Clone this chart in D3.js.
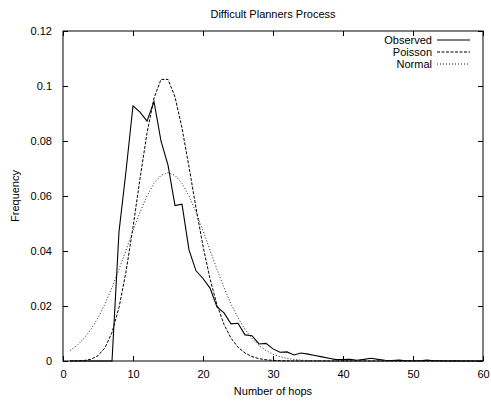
<!DOCTYPE html>
<html><head><meta charset="utf-8">
<script src="https://cdnjs.cloudflare.com/ajax/libs/d3/7.8.5/d3.min.js"></script>
<style>
body{margin:0;background:#fff;}
text{font-family:"Liberation Sans",Arial,Helvetica,sans-serif;font-size:11px;fill:#000;}
</style></head><body>
<svg id="chart" width="491" height="401"></svg>
<script>
const title = "Difficult Planners Process";
const xLabel = "Number of hops";
const yLabel = "Frequency";
const xTicks = [0,10,20,30,40,50,60];
const yTicks = [0,0.02,0.04,0.06,0.08,0.1,0.12];
const seriesNames = ["Observed","Poisson","Normal"];
const hops = d3.range(1,61);
const observed = [0,0,0,0,0,0,0,0.047,0.069,0.0928,0.0905,0.0872,0.0943,0.080,0.0712,0.0565,0.0570,0.0404,0.0328,0.0300,
  0.0265,0.0197,0.0175,0.0135,0.0137,0.0095,0.0092,0.0062,0.0064,0.0044,0.0032,0.0033,0.0022,0.0029,0.0025,0.0020,0.0015,0.0010,0.0005,0.0005,
  0.0006,0.0003,0.0006,0.0010,0.0006,0.0003,0.0002,0.0003,0.0001,0.0001,0.0001,0.0003,0.0001,0.0001,0,0.0001,0,0,0,0];
const poisson = [0.0000046,0.0000344,0.000172,0.000646,0.001936,0.004839,0.01037,0.01944,0.03241,0.04861,0.06629,0.08286,0.09561,0.1024,0.1024,
  0.0960,0.0847,0.0706,0.0557,0.0418,0.0299,0.0204,0.0133,0.0083,0.0050,0.0029,0.0016,0.00085,0.00044,0.00022,
  0.00011,0.00005,0.00002,0.00001,0,0,0,0,0,0,0,0,0,0,0,0,0,0,0,0,0,0,0,0,0,0,0,0,0,0];
const normal = [0.00380,0.00566,0.00818,0.0115,0.0157,0.0207,0.0267,0.0333,0.0403,0.0474,0.0541,0.0600,0.0646,0.0675,0.0685,
  0.0675,0.0646,0.0600,0.0541,0.0474,0.0403,0.0333,0.0267,0.0207,0.0157,0.0115,0.00818,0.00566,0.00380,0.00247,
  0.00157,0.00096,0.00057,0.00033,0.00019,0.0001,0.00005,0.00003,0.00001,0,0,0,0,0,0,0,0,0,0,0,0,0,0,0,0,0,0,0,0,0];

const W=491,H=401, L=63, R=483, T=31, B=361;
const svg = d3.select("#chart");
const x = d3.scaleLinear().domain([0,60]).range([L,R]);
const y = d3.scaleLinear().domain([0,0.12]).range([B,T]);

svg.append("text").attr("x",(L+R)/2).attr("y",18).attr("text-anchor","middle").text(title);

// axes with inward ticks
const fmt = d => d===0 ? "0" : String(+d.toFixed(2));
const ax = g => g.selectAll(".domain").remove();
svg.append("g").attr("transform",`translate(0,${B})`)
  .call(d3.axisBottom(x).tickValues(xTicks).tickSizeInner(-5).tickSizeOuter(0).tickPadding(9).tickFormat(d3.format("d")))
  .call(ax).call(g=>g.selectAll("text").style("font-size","11px").attr("font-family",null));
svg.append("g").attr("transform",`translate(0,${T})`)
  .call(d3.axisTop(x).tickValues(xTicks).tickSizeInner(-5).tickSizeOuter(0).tickFormat(""))
  .call(ax);
svg.append("g").attr("transform",`translate(${L},0)`)
  .call(d3.axisLeft(y).tickValues(yTicks).tickSizeInner(-5).tickSizeOuter(0).tickPadding(11).tickFormat(fmt))
  .call(ax).call(g=>g.selectAll("text").style("font-size","11px").attr("font-family",null));
svg.append("g").attr("transform",`translate(${R},0)`)
  .call(d3.axisRight(y).tickValues(yTicks).tickSizeInner(-5).tickSizeOuter(0).tickFormat(""))
  .call(ax);
svg.selectAll(".tick line").attr("stroke","#000");

svg.append("rect").attr("x",L).attr("y",T).attr("width",R-L).attr("height",B-T)
  .attr("fill","none").attr("stroke","#000").attr("stroke-width",1);

svg.append("text").attr("x",(L+R)/2).attr("y",395).attr("text-anchor","middle").text(xLabel);
svg.append("text").attr("transform",`translate(19,${(T+B)/2}) rotate(-90)`).attr("text-anchor","middle").text(yLabel);

const styles = [
  {data:observed, dash:null, color:"#000", w:1.1},
  {data:poisson, dash:"3,1.5", color:"#000", w:1},
  {data:normal, dash:"1,2", color:"#222", w:1}
];
const line = d3.line().x((d,i)=>x(hops[i])).y(d=>y(d));
const plot = svg.append("g");
styles.forEach(s=>{
  plot.append("path").datum(s.data).attr("d",line).attr("fill","none")
    .attr("stroke",s.color).attr("stroke-width",s.w).attr("stroke-dasharray",s.dash);
});

// legend
const lg = svg.append("g");
seriesNames.forEach((n,i)=>{
  const yy = 40 + i*12;
  lg.append("text").attr("x",432).attr("y",yy+4).attr("text-anchor","end").text(n);
  lg.append("line").attr("x1",437).attr("x2",470).attr("y1",yy).attr("y2",yy)
    .attr("stroke",styles[i].color).attr("stroke-width",styles[i].w).attr("stroke-dasharray",styles[i].dash);
});
</script></body></html>
